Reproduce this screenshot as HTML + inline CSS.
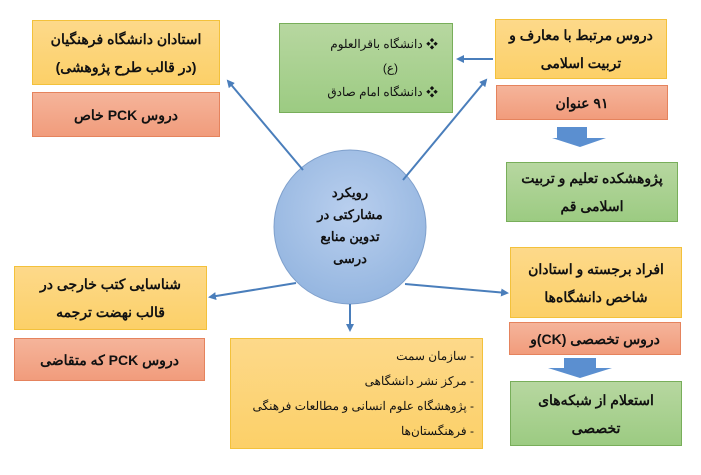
<!DOCTYPE html>
<html><head><meta charset="utf-8"><style>
body{margin:0;width:701px;height:475px;background:#fff;position:relative;overflow:hidden;font-family:"Liberation Sans","Noto Sans CJK SC",sans-serif;}
.b{position:absolute;box-sizing:border-box;direction:rtl;text-align:center;font-weight:bold;font-size:14px;color:#111;display:flex;align-items:center;justify-content:center;line-height:28px;}
.y{background:linear-gradient(#fdd98a,#fcd068);border:1.5px solid #f3c13b;}
.r{background:linear-gradient(#f5b49a,#f19c7c);border:1.5px solid #e5835d;}
.g{background:linear-gradient(#b7d7a0,#9ccb82);border:1.5px solid #78ae5a;}
</style></head><body>
<svg width="701" height="475" style="position:absolute;left:0;top:0">
<defs>
<marker id="a" markerWidth="8" markerHeight="8" refX="6" refY="4" orient="auto" markerUnits="userSpaceOnUse"><path d="M0,0 L8,4 L0,8 z" fill="#4a7ebb"/></marker>
<radialGradient id="cg" cx="50%" cy="40%" r="60%"><stop offset="0" stop-color="#b9cfee"/><stop offset="1" stop-color="#95b6e0"/></radialGradient>
</defs>
<ellipse cx="350" cy="227" rx="76" ry="77" fill="url(#cg)" stroke="#7fa0cc" stroke-width="1"/>
<g stroke="#4a7ebb" stroke-width="2" fill="none">
<line x1="303" y1="170" x2="228" y2="81" marker-end="url(#a)"/>
<line x1="403" y1="180" x2="486" y2="80" marker-end="url(#a)"/>
<line x1="493" y1="59" x2="458" y2="59" marker-end="url(#a)"/>
<line x1="350" y1="304" x2="350" y2="330" marker-end="url(#a)"/>
<line x1="296" y1="283" x2="210" y2="297" marker-end="url(#a)"/>
<line x1="405" y1="284" x2="507" y2="293" marker-end="url(#a)"/>
</g>
<path d="M557,127 H587 V138 H606 L580,147 L552,138 H557 z" fill="#5b8fd0"/>
<path d="M564,358 H596 V368 H612 L580,378 L548,368 H564 z" fill="#5b8fd0"/>
</svg>
<div class="b y" style="left:32px;top:20px;width:188px;height:65px;">استادان دانشگاه فرهنگیان<br>(در قالب طرح پژوهشی)</div>
<div class="b r" style="left:32px;top:92px;width:188px;height:45px;">دروس PCK خاص</div>
<div class="b g" style="left:279px;top:23px;width:174px;height:90px;font-weight:normal;font-size:12px;line-height:24px;text-align:right;justify-content:flex-start;padding-right:14px;"><div>❖ دانشگاه باقرالعلوم<br><span style="padding-right:40px">(ع)</span><br>❖ دانشگاه امام صادق</div></div>
<div class="b y" style="left:495px;top:19px;width:172px;height:60px;">دروس مرتبط با معارف و<br>تربیت اسلامی</div>
<div class="b r" style="left:496px;top:85px;width:172px;height:35px;">۹۱ عنوان</div>
<div class="b g" style="left:506px;top:162px;width:172px;height:60px;">پژوهشکده تعلیم و تربیت<br>اسلامی قم</div>
<div class="b" style="left:285px;top:178px;width:130px;height:95px;line-height:22px;font-size:13px;">رویکرد<br>مشارکتی در<br>تدوین منابع<br>درسی</div>
<div class="b y" style="left:14px;top:266px;width:193px;height:64px;">شناسایی کتب خارجی در<br>قالب نهضت ترجمه</div>
<div class="b r" style="left:14px;top:338px;width:191px;height:43px;">دروس PCK که متقاضی</div>
<div class="b y" style="left:230px;top:338px;width:253px;height:111px;font-weight:normal;font-size:12px;line-height:25px;justify-content:flex-start;text-align:right;padding-right:8px;"><div>- سازمان سمت<br>- مرکز نشر دانشگاهی<br>- پژوهشگاه علوم انسانی و مطالعات فرهنگی<br>- فرهنگستان‌ها</div></div>
<div class="b y" style="left:510px;top:247px;width:172px;height:71px;">افراد برجسته و استادان<br>شاخص دانشگاه‌ها</div>
<div class="b r" style="left:509px;top:322px;width:172px;height:33px;">دروس تخصصی (CK)و</div>
<div class="b g" style="left:510px;top:381px;width:172px;height:65px;">استعلام از شبکه‌های<br>تخصصی</div>
</body></html>
